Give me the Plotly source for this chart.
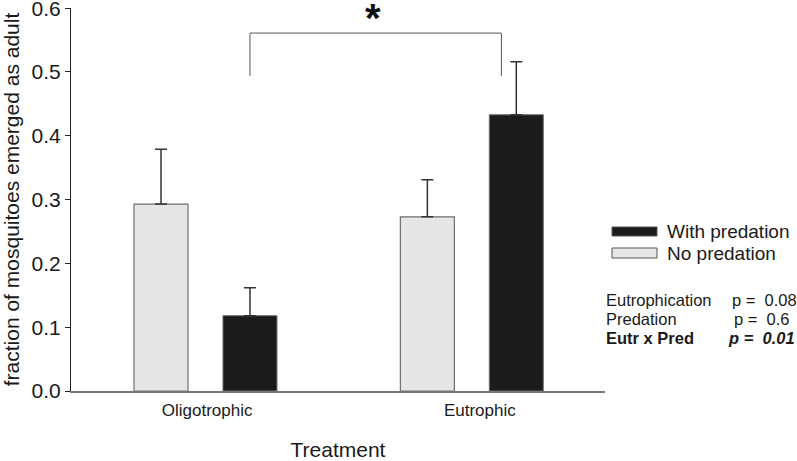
import plotly.graph_objects as go

categories = ["Oligotrophic", "Eutrophic"]
no_pred = [0.293, 0.273]
no_pred_err = [0.086, 0.058]
with_pred = [0.118, 0.433]
with_pred_err = [0.044, 0.083]
series_names = ["No predation", "With predation"]
stats_labels = ["Eutrophication", "Predation", "Eutr x Pred"]
stats_p = ["0.08", "0.6", "0.01"]

FONT = "Arial, Liberation Sans, Helvetica, sans-serif"
LIGHT = "#e6e6e6"
DARK = "#1b1b1b"

fig = go.Figure()
fig.add_trace(go.Bar(
    x=categories, y=no_pred, name=series_names[0],
    marker=dict(color=LIGHT, line=dict(color="#6e6e6e", width=1.2)),
    error_y=dict(type="data", array=no_pred_err, arrayminus=[0, 0], symmetric=False,
                 color="#333333", thickness=1.5, width=6),
    showlegend=False,
))
fig.add_trace(go.Bar(
    x=categories, y=with_pred, name=series_names[1],
    marker=dict(color=DARK, line=dict(color="#6e6e6e", width=1)),
    error_y=dict(type="data", array=with_pred_err, arrayminus=[0, 0], symmetric=False,
                 color="#333333", thickness=1.5, width=6),
    showlegend=False,
))

fig.update_layout(
    width=797, height=461,
    margin=dict(l=71, r=192, t=8, b=70),
    paper_bgcolor="white", plot_bgcolor="white",
    barmode="group", bargap=0.332, bargroupgap=0.393,
    font=dict(family=FONT, color="#1a1a1a"),
    xaxis=dict(
        range=[-0.505, 1.5], showline=True, linecolor="#777777", linewidth=2,
        tickvals=[0.006, 1.03], ticktext=categories, automargin=False,
        ticks="", tickfont=dict(size=17, color="#1a1a1a"), ticklabelstandoff=3,
        title=dict(text="Treatment", font=dict(size=21), standoff=25),
        showgrid=False, zeroline=False,
    ),
    yaxis=dict(
        range=[0, 0.6003], tickvals=[0, 0.1, 0.2, 0.3, 0.4, 0.5, 0.6],
        tickformat=".1f", showline=True, linecolor="#222222", linewidth=1,
        ticks="outside", ticklen=5, tickcolor="#222222", ticklabelstandoff=0,
        ticklabeloverflow="allow", automargin=False,
        tickfont=dict(size=21, color="#1a1a1a"),
        title=dict(text="fraction of mosquitoes emerged as adult", font=dict(size=21), standoff=7),
        showgrid=False, zeroline=False,
    ),
)

# significance bracket between the two "With predation" bars
left_x, right_x, top_y, bot_y = 0.167, 1.111, 0.561, 0.494
bracket_style = dict(color="#555555", width=1)
fig.add_shape(type="line", xref="x", yref="y", x0=left_x, x1=right_x, y0=top_y, y1=top_y, line=bracket_style)
fig.add_shape(type="line", xref="x", yref="y", x0=left_x, x1=left_x, y0=top_y, y1=bot_y, line=bracket_style)
fig.add_shape(type="line", xref="x", yref="y", x0=right_x, x1=right_x, y0=top_y, y1=bot_y, line=bracket_style)


def px2paper_x(px):
    return (px - 71) / 534.0


def px2paper_y(py):
    return (391 - py) / 383.0


fig.add_annotation(x=0.628, y=px2paper_y(-6), xref="x", yref="paper", text="<b>*</b>", showarrow=False,
                   font=dict(size=40, color="#111111"), yanchor="top")

# custom legend
legend_items = [(series_names[1], DARK, 227, 236), (series_names[0], LIGHT, 248, 258)]
for name, col, ytop, ybot in legend_items:
    fig.add_shape(type="rect", xref="paper", yref="paper",
                  x0=px2paper_x(612), x1=px2paper_x(657), y0=px2paper_y(ybot), y1=px2paper_y(ytop),
                  fillcolor=col, line=dict(color="#555555", width=1))
    fig.add_annotation(xref="paper", yref="paper", x=px2paper_x(665), y=px2paper_y((ytop + ybot) / 2),
                       text=name, showarrow=False, xanchor="left", yanchor="middle",
                       font=dict(size=19, color="#1a1a1a"))

# stats text
rows_y = [300, 319, 338]
p_x = [730, 732, 726]
for i, (lab, p) in enumerate(zip(stats_labels, stats_p)):
    bold = i == 2
    fig.add_annotation(xref="paper", yref="paper", x=px2paper_x(604), y=px2paper_y(rows_y[i]),
                       text=f"<b>{lab}</b>" if bold else lab, showarrow=False,
                       xanchor="left", yanchor="middle", font=dict(size=16.5, color="#1a1a1a"))
    ptxt = "p =\u00a0 " + p
    fig.add_annotation(xref="paper", yref="paper", x=px2paper_x(p_x[i]), y=px2paper_y(rows_y[i]),
                       text=f"<b><i>{ptxt}</i></b>" if bold else ptxt, showarrow=False,
                       xanchor="left", yanchor="middle", font=dict(size=16.5, color="#1a1a1a"))

fig.write_html("out.html", config={"displayModeBar": False},
               post_script="document.body.style.margin='0';")
